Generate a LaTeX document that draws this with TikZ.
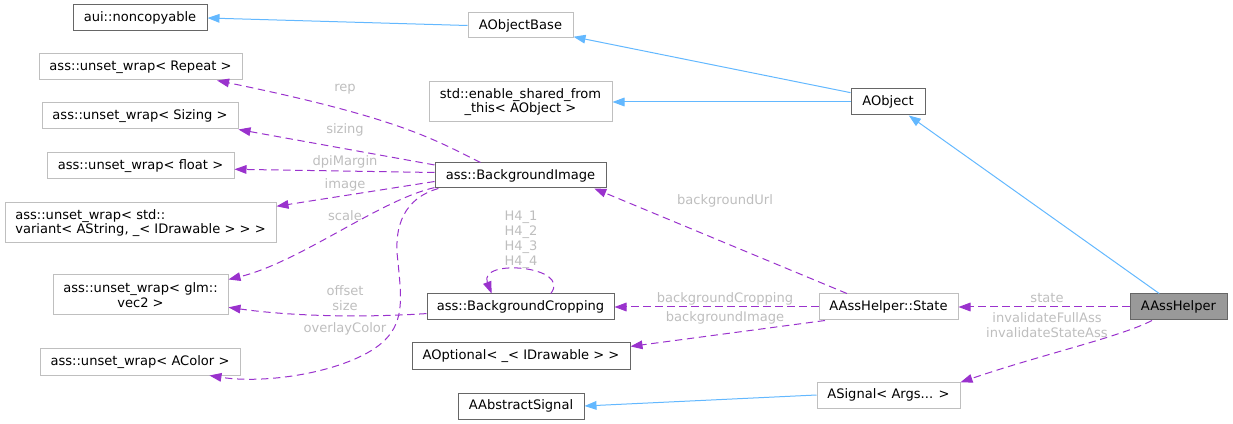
\documentclass[tikz,border=0pt]{standalone}
\usepackage{fontspec}
\setmainfont{DejaVu Sans}
\usetikzlibrary{arrows.meta}

\definecolor{edgeblue}{HTML}{63B8FF}
\definecolor{edgepurple}{HTML}{9A32CD}
\definecolor{lblgray}{HTML}{BEBEBE}
\definecolor{boxdark}{HTML}{666666}
\definecolor{boxlight}{HTML}{BFBFBF}
\definecolor{boxfill}{HTML}{999999}

\begin{document}
\begin{tikzpicture}[x=0.75pt, y=-0.75pt,
  cls/.style={draw=boxdark, line width=0.75pt, inner sep=0pt, minimum height=19.5pt, font=\fontsize{9.8}{11}\selectfont, align=center},
  ext/.style={cls, draw=boxlight},
  boxw/.style={minimum width=#1*0.75pt},
  boxh/.style={minimum height=#1*0.75pt},
  inh/.style={draw=edgeblue, line width=0.75pt, -{Triangle[length=9pt,width=6.5pt]}},
  member/.style={draw=edgepurple, line width=0.75pt, dash pattern=on 5.5pt off 3.5pt, -{Triangle[length=9pt,width=6.5pt]}},
  lbl/.style={text=lblgray, inner sep=0pt, align=center, font=\fontsize{9.8}{11.2}\selectfont}]
\useasboundingbox (0,0) rectangle (1233,424);

\node[cls, boxw=134] (nonc) at (140,18) {aui::noncopyable};
\node[ext, boxw=105, boxh=25] (aobase) at (520.5,25.5) {AObjectBase};
\node[ext, boxw=203] (repeat) at (140.5,67) {ass::unset\_wrap< Repeat >};
\node[ext, boxw=183, boxh=40] (esft) at (520.5,102) {std::enable\_shared\_from\\\_this< AObject >};
\node[cls, boxw=74] (aobj) at (888,102) {AObject};
\node[ext, boxw=196] (sizing) at (140,116) {ass::unset\_wrap< Sizing >};
\node[ext, boxw=187] (float) at (140.5,166) {ass::unset\_wrap< float >};
\node[cls, boxw=171, boxh=25] (bgimg) at (520.5,175.5) {ass::BackgroundImage};
\node[ext, boxw=271, boxh=40, align=left] (variant) at (140.5,223) {ass::unset\_wrap< std::\\variant< AString, \_< IDrawable > > >};
\node[ext, boxw=175, boxh=40] (glm) at (140.5,295) {ass::unset\_wrap< glm::\\vec2 >};
\node[cls, boxw=187] (bgcrop) at (520.5,307) {ass::BackgroundCropping};
\node[ext, boxw=139] (state) at (888.5,307) {AAssHelper::State};
\node[cls, boxw=97, fill=boxfill] (helper) at (1178.5,307) {AAssHelper};
\node[cls, boxw=218] (aopt) at (521,356) {AOptional< \_< IDrawable > >};
\node[ext, boxw=200] (acolor) at (140,362) {ass::unset\_wrap< AColor >};
\node[cls, boxw=126] (aabs) at (521,406) {AAbstractSignal};
\node[ext, boxw=143] (asig) at (888.5,395) {ASignal< Args... >};

\draw[inh] (aobase.west) -- (nonc.east);
\draw[inh] (aobj.166) -- (aobase.-12);
\draw[inh] (aobj.west) -- (esft.east);
\draw[inh] (helper.145) -- (aobj.-33);
\draw[inh] (asig.west) -- (aabs.east);

\draw[member] (bgimg.162) .. controls (435,140) and (400,118) .. (repeat.-10);
\draw[member] (bgimg.173) -- (sizing.south east);
\draw[member] (bgimg.178) -- (float.-2);
\draw[member] (bgimg.184) -- (variant.7);
\draw[member] (bgimg.188) .. controls (380,200) and (300,262) .. (glm.10);
\draw[member] (bgcrop.184) .. controls (360,318) and (290,316) .. (glm.-8);
\draw[member] (bgimg.189) .. controls (405,198) and (393,225) .. (398,262)
  .. controls (401,295) and (405,320) .. (385,340)
  .. controls (355,370) and (270,385) .. (acolor.-11);
\draw[member] (bgcrop.24) .. controls (572,266) and (478,258) .. (bgcrop.155);
\draw[member] (state.162) -- (bgimg.-10);
\draw[member] (state.west) -- (bgcrop.east);
\draw[member] (state.-168) -- (aopt.5);
\draw[member] (helper.west) -- (state.east);
\draw[member] (helper.207) .. controls (1120,337) and (1040,355) .. (asig.10);

\node[lbl] (lrep) at (345,89) {rep};
\node[lbl] (lsizing) at (345,130) {sizing};
\node[lbl] (ldpi) at (345,162) {dpiMargin};
\node[lbl] (limage) at (345,185) {image};
\node[lbl] (lscale) at (345,216) {scale};
\node[lbl] (loffset) at (345,298) {offset\\size};
\node[lbl] (loverlay) at (345,329) {overlayColor};
\node[lbl] (lh4) at (521,240) {H4\_1\\H4\_2\\H4\_3\\H4\_4};
\node[lbl] (lurl) at (725,201) {backgroundUrl};
\node[lbl] (lcrop) at (725,299) {backgroundCropping};
\node[lbl] (lbgimage) at (725,318) {backgroundImage};
\node[lbl] (lstate) at (1047,298) {state};
\node[lbl] (linval) at (1047,325) {invalidateFullAss\\invalidateStateAss};
\end{tikzpicture}
\end{document}
